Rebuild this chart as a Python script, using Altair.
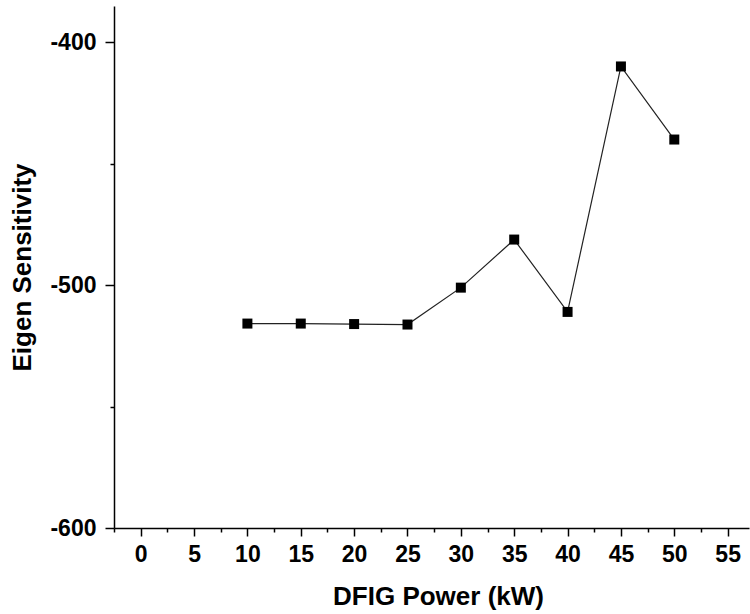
import altair as alt
import pandas as pd

power_kw = [10, 15, 20, 25, 30, 35, 40, 45, 50]
eigen_sensitivity = [-515.8, -515.8, -516.0, -516.2, -501.0, -481.2, -511.0, -409.9, -440.0]

x_ticks = [v * 2.5 for v in range(-1, 23)]
y_ticks = [-600, -550, -500, -450, -400]

df = pd.DataFrame({"power": power_kw, "sens": eigen_sensitivity})

FONT = "Liberation Sans"

x_enc = alt.X(
    "power:Q",
    scale=alt.Scale(domain=[-2.5, 57], nice=False, zero=False),
    axis=alt.Axis(
        title="DFIG Power (kW)",
        values=x_ticks,
        labelExpr="datum.value % 5 === 0 ? '' + datum.value : ''",
        tickSize={"condition": {"test": "datum.value % 5 === 0", "value": 8}, "value": 4},
        labelPadding=7,
        titlePadding=17,
        titleX=324,
    ),
)

y_enc = alt.Y(
    "sens:Q",
    scale=alt.Scale(domain=[-600, -385], nice=False, zero=False),
    axis=alt.Axis(
        title="Eigen Sensitivity",
        values=y_ticks,
        labelExpr="datum.value % 100 === 0 ? '' + datum.value : ''",
        tickSize={"condition": {"test": "datum.value % 100 === 0", "value": 9}, "value": 4},
        labelPadding=9,
        titlePadding=14,
    ),
)

base = alt.Chart(df).encode(x=x_enc, y=y_enc)
line = base.mark_line(color="#222222", strokeWidth=1.2)
points = base.mark_point(shape="square", filled=True, size=100, color="black", opacity=1)

chart = (
    alt.layer(line, points)
    .properties(
        width=635,
        height=522,
        autosize=alt.AutoSizeParams(type="none"),
        padding={"left": 114, "top": 6, "right": 1, "bottom": 86},
        background="white",
    )
    .configure_view(stroke=None)
    .configure_axis(
        grid=False,
        domainColor="black",
        domainWidth=1.5,
        tickColor="black",
        tickWidth=1.5,
        labelFont=FONT,
        labelFontSize=23,
        labelFontWeight="bold",
        labelColor="black",
        labelFlush=False,
        labelOverlap=False,
        titleFont=FONT,
        titleFontSize=26,
        titleFontWeight="bold",
        titleColor="black",
    )
)

chart.save("out.html", embed_options={"renderer": "svg", "actions": False})
